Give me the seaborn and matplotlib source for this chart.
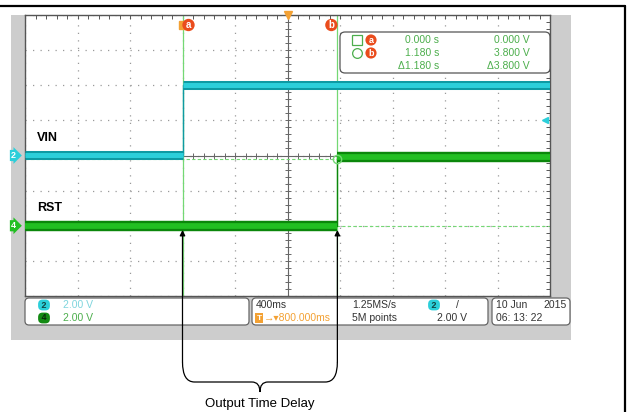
"""Scope capture: VIN rise to RST release, output time delay."""

import numpy as np
import pandas as pd
import matplotlib
matplotlib.use("Agg")
import matplotlib.pyplot as plt
import matplotlib.transforms as mtransforms
import seaborn as sns
from matplotlib.patches import FancyBboxPatch, Rectangle, PathPatch
from matplotlib.path import Path

# scope settings and readings
time_div = 0.4        # s/div  (400ms)
volt_div = 2.0        # V/div, both channels
h_delay = 0.8         # s, horizontal position right of trigger
trig_level = 2.0      # V on ch2
cursor_a = 0.000
cursor_b = 1.180
cursor_va = 0.000
cursor_vb = 3.800

ch_names = ["VIN", "RST"]
ch_numbers = ["2", "4"]
ch_offsets = [0.0, -2.0]      # divisions
edge_times = [0.0, 1.18]      # s
low_levels = [0.05, 0.0]      # V
high_levels = [4.0, 3.9]      # V

sample_rate = "1.25MS/s"
record_len = "5M points"
date_str = "10 Jun"
year_str = "2015"
time_str = "06: 13: 22"

sns.set_theme(style="white")
plt.rcParams["font.family"] = ["Liberation Sans", "DejaVu Sans"]

CYAN_DARK, CYAN = "#0e9aa3", "#2ccfda"
GREEN_DARK, GREEN = "#0b870b", "#22bf22"
CUR = "#74d874"
TXT_GREEN = "#4cae4c"
ORANGE = "#f3a133"
RED = "#ea4c1c"

W, H = 628, 412
PL, PT, PR, PB = 25, 15, 550, 296

fig = plt.figure(figsize=(W / 100, H / 100), dpi=100)
bg = fig.add_axes([0, 0, 1, 1], zorder=0)
bg.set_xlim(0, W)
bg.set_ylim(H, 0)
bg.axis("off")
ax = fig.add_axes([PL / W, 1 - PB / H, (PR - PL) / W, (PB - PT) / H], zorder=2)
fg = fig.add_axes([0, 0, 1, 1], zorder=4)
fg.set_xlim(0, W)
fg.set_ylim(H, 0)
fg.axis("off")

# page frame and grey scope body
bg.plot([0, 625], [6, 6], color="black", lw=1.6)
bg.plot([625, 625], [6, H], color="black", lw=1.6)
bg.add_patch(Rectangle((11, 15), 560, 325, fc="#cdcdcd", ec="none"))

# graticule
xmin, xmax = h_delay - 5 * time_div, h_delay + 5 * time_div
ax.set_xlim(xmin, xmax)
ax.set_ylim(-4, 4)
ax.set_facecolor("white")
ax.set_xticks(np.linspace(xmin, xmax, 11))
ax.set_yticks(np.arange(-4, 5))
minor_x = np.linspace(xmin, xmax, 51)
minor_y = np.linspace(-4, 4, 41)
ax.set_xticks(minor_x, minor=True)
ax.set_yticks(minor_y, minor=True)
ax.tick_params(which="both", direction="in", length=3, width=0.7, color="#555555",
               top=True, right=True, labelbottom=False, labelleft=False)
ax.grid(which="major", color="#9a9a9a", ls=(0, (1, 5)), lw=0.9)
for s in ax.spines.values():
    s.set_color("#555555")
    s.set_linewidth(1.0)
ax.axhline(0, color="#666666", lw=0.8, zorder=1)
ax.axvline(h_delay, color="#666666", lw=0.8, zorder=1)
ax.plot(minor_x, np.zeros_like(minor_x), ls="none", marker="|", ms=4, mew=0.7,
        color="#666666", zorder=1)
ax.plot(np.full_like(minor_y, h_delay), minor_y, ls="none", marker="_", ms=5, mew=0.7,
        color="#666666", zorder=1)

# cursors
for t in (cursor_a, cursor_b):
    ax.axvline(t, color=CUR, lw=0.9, zorder=2)
for v in (cursor_va, cursor_vb):
    ax.axhline(ch_offsets[1] + v / volt_div, color=CUR, lw=0.8, ls=(0, (3, 2)), zorder=2)
ax.plot(cursor_b, ch_offsets[1] + cursor_vb / volt_div, marker="o", mfc="none",
        mec=CUR, ms=6, zorder=5)

# traces
colors = [(CYAN_DARK, CYAN, 6.5), (GREEN_DARK, GREEN, 7.5)]
for i in range(2):
    dark, light, band = colors[i]
    lo = ch_offsets[i] + low_levels[i] / volt_div
    hi = ch_offsets[i] + high_levels[i] / volt_div
    df = pd.DataFrame({
        "t": [xmin, edge_times[i], edge_times[i], xmax],
        "div": [lo, lo, hi, hi],
        "seg": [0, 0, 1, 1],
    })
    sns.lineplot(data=df, x="t", y="div", sort=False, estimator=None, color=dark,
                 lw=1.0, ax=ax, zorder=3)
    sns.lineplot(data=df, x="t", y="div", units="seg", sort=False, estimator=None,
                 color=dark, lw=band, solid_capstyle="butt", ax=ax, zorder=3,
                 legend=False)
    sns.lineplot(data=df, x="t", y="div", units="seg", sort=False, estimator=None,
                 color=light, lw=band * 0.55, solid_capstyle="butt", ax=ax, zorder=3,
                 legend=False)
    ax.text(xmin + 0.09, ch_offsets[i] + 0.5, ch_names[i], fontsize=9,
            fontweight="bold", color="black", va="center", ha="left", zorder=6)
ax.set_xlabel("")
ax.set_ylabel("")

# channel ground markers and trigger level
blend = mtransforms.blended_transform_factory(ax.transAxes, ax.transData)
for i, col in enumerate([CYAN, GREEN]):
    ax.text(-0.022, ch_offsets[i], ch_numbers[i], transform=blend, fontsize=6.5,
            color="white", fontweight="bold", ha="center", va="center", clip_on=False,
            bbox=dict(boxstyle="rarrow,pad=0.12", fc=col, ec="none"), zorder=6)
ax.plot([0.99], [ch_offsets[0] + trig_level / volt_div], marker="<", ms=5, color=CYAN,
        transform=blend, clip_on=False, zorder=6)
ax.plot([h_delay], [4], marker="v", ms=6, color=ORANGE, clip_on=False, zorder=6)

# cursor tags along the top
px_s = (PR - PL) / (xmax - xmin)
tag_y = 4 - 10 * 8 / (PB - PT)
ax.plot(cursor_a, tag_y, marker="s", ms=6, color=ORANGE, zorder=6)
ax.text(cursor_a + 6 / px_s, tag_y, "a", fontsize=7, fontweight="bold", color="white",
        ha="center", va="center", zorder=7,
        bbox=dict(boxstyle="circle,pad=0.12", fc=RED, ec="none"))
ax.text(cursor_b - 6 / px_s, tag_y, "b", fontsize=7, fontweight="bold", color="white",
        ha="center", va="center", zorder=7,
        bbox=dict(boxstyle="circle,pad=0.12", fc=RED, ec="none"))

# cursor readout box
fg.add_patch(FancyBboxPatch((340, 32), 210, 41, boxstyle="round,pad=0,rounding_size=5",
                            fc="white", ec="#555555", lw=0.9))
fg.plot(357, 40, marker="s", mfc="none", mec=TXT_GREEN, ms=7, mew=0.9)
fg.plot(357, 53, marker="o", mfc="none", mec=TXT_GREEN, ms=7, mew=0.9)
for y, lab in [(40, "a"), (53, "b")]:
    fg.text(371, y, lab, fontsize=6.5, fontweight="bold", color="white", ha="center",
            va="center", bbox=dict(boxstyle="circle,pad=0.12", fc=RED, ec="none"))
rows = [
    (40, f"{cursor_a:.3f} s", f"{cursor_va:.3f} V"),
    (53, f"{cursor_b:.3f} s", f"{cursor_vb:.3f} V"),
    (66, f"\u0394{cursor_b - cursor_a:.3f} s", f"\u0394{cursor_vb - cursor_va:.3f} V"),
]
for y, ts, vs in rows:
    fg.text(439, y, ts, fontsize=7.5, color=TXT_GREEN, ha="right", va="center")
    fg.text(530, y, vs, fontsize=7.5, color=TXT_GREEN, ha="right", va="center")

# bottom status panels
for x0, w in [(25, 224), (252, 236), (492, 78)]:
    bg.add_patch(FancyBboxPatch((x0, 298), w, 27, boxstyle="round,pad=0,rounding_size=4",
                                fc="white", ec="#666666", lw=0.9))
bg.text(44, 305, " 2 ", fontsize=6.5, fontweight="bold", color="#114444", ha="center",
        va="center", bbox=dict(boxstyle="round,pad=0.1,rounding_size=0.5", fc=CYAN, ec="none"))
bg.text(44, 318, " 4 ", fontsize=6.5, fontweight="bold", color="#0b2a0b", ha="center",
        va="center", bbox=dict(boxstyle="round,pad=0.1,rounding_size=0.5", fc="#138a13",
                               ec="none"))
bg.text(63, 305, f"{volt_div:.2f} V", fontsize=7.5, color="#7fd5dd", va="center")
bg.text(63, 318, f"{volt_div:.2f} V", fontsize=7.5, color=TXT_GREEN, va="center")

bg.text(256, 305, f"{time_div * 1000:.0f}ms", fontsize=7.5, color="#333333", va="center")
bg.text(259, 318, "T", fontsize=6, fontweight="bold", color="white", ha="center",
        va="center", bbox=dict(boxstyle="square,pad=0.15", fc=ORANGE, ec="none"))
bg.text(264, 318, f"\u2192\u25be{h_delay * 1000:.3f}ms", fontsize=7.5, color=ORANGE,
        va="center")
bg.text(352, 305, sample_rate, fontsize=7.5, color="#333333", va="center")
bg.text(352, 318, record_len, fontsize=7.5, color="#333333", va="center")
bg.text(434, 305, " 2 ", fontsize=6.5, fontweight="bold", color="#114444", ha="center",
        va="center", bbox=dict(boxstyle="round,pad=0.1,rounding_size=0.5", fc=CYAN, ec="none"))
bg.text(457, 305, "/", fontsize=7.5, color="#333333", ha="center", va="center")
bg.text(467, 318, f"{trig_level:.2f} V", fontsize=7.5, color="#333333", ha="right",
        va="center")

bg.text(496, 305, date_str, fontsize=7.5, color="#333333", va="center")
bg.text(567, 305, year_str, fontsize=7.5, color="#333333", ha="right", va="center")
bg.text(496, 318, time_str, fontsize=7.5, color="#333333", va="center")

# delay arrows and brace
dpp = 8 / (PB - PT)
ycen = PT + (PB - PT) / 2


def px2div(p):
    return (ycen - p) * dpp


tip = px2div(230)
ytop, ybar, ytip = px2div(362), px2div(382), px2div(392)
for t in (cursor_a, cursor_b):
    ax.annotate("", xy=(t, tip), xytext=(t, ytop), annotation_clip=False,
                arrowprops=dict(arrowstyle="-|>", color="black", lw=0.9,
                                mutation_scale=8, shrinkA=0, shrinkB=0), zorder=8)
xm = (cursor_a + cursor_b) / 2
dx1, dx2 = 12 / px_s, 8 / px_s
verts = [
    (cursor_a, ytop), (cursor_a, ybar), (cursor_a + dx1, ybar),
    (xm - dx2, ybar),
    (xm, ybar), (xm, ytip),
    (xm, ybar), (xm + dx2, ybar),
    (cursor_b - dx1, ybar),
    (cursor_b, ybar), (cursor_b, ytop),
]
codes = [Path.MOVETO, Path.CURVE3, Path.CURVE3, Path.LINETO, Path.CURVE3, Path.CURVE3,
         Path.CURVE3, Path.CURVE3, Path.LINETO, Path.CURVE3, Path.CURVE3]
ax.add_patch(PathPatch(Path(verts, codes), fill=False, ec="black", lw=0.9,
                       clip_on=False, zorder=8))
ax.text(xm, px2div(404), "Output Time Delay", fontsize=9.5, color="black", ha="center",
        va="center", clip_on=False)

fig.savefig("out.png", dpi=100)
plt.close(fig)
